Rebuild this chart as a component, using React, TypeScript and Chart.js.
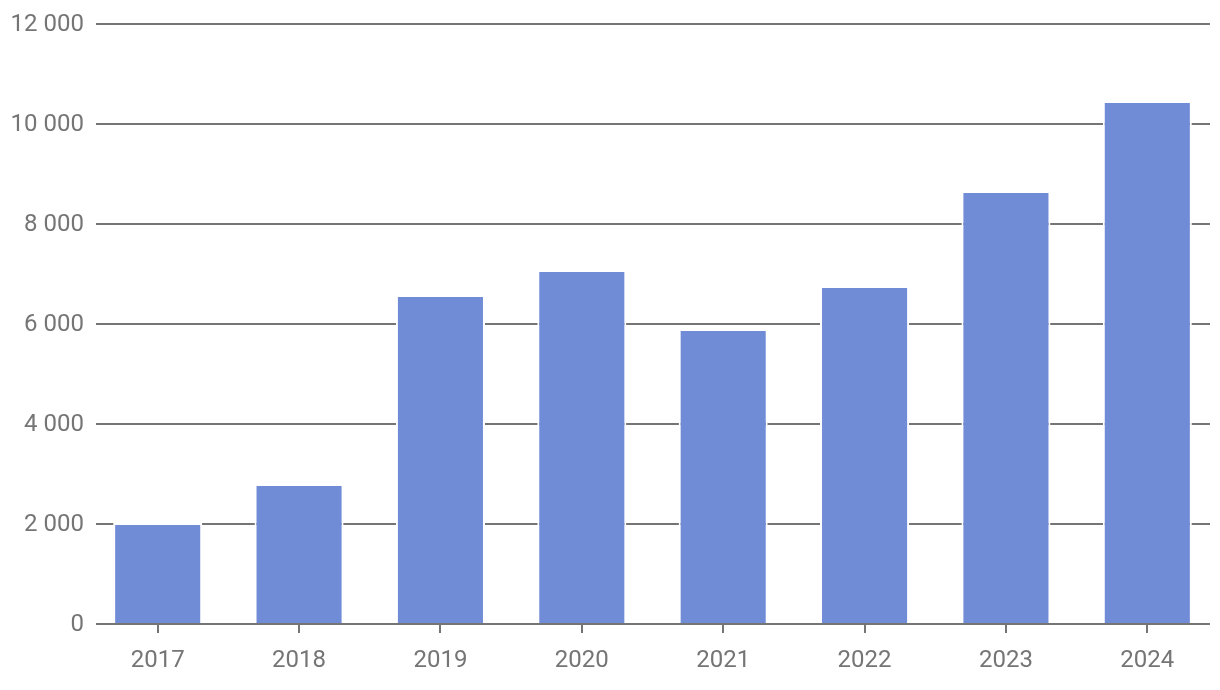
import React, { useEffect, useRef } from "react";
import { Chart, registerables } from "chart.js";

Chart.register(...registerables);

const categories = ["2017", "2018", "2019", "2020", "2021", "2022", "2023", "2024"];
const values = [2020, 2800, 6580, 7080, 5900, 6760, 8660, 10460];
const yTicks = [0, 2000, 4000, 6000, 8000, 10000, 12000];

const BAR_COLOR = "#718cd7";
const AXIS_COLOR = "#757575";
const FONT = "Roboto";

const fmt = (v: number) => String(v).replace(/\B(?=(\d{3})+(?!\d))/g, " ");

const gridPlugin = {
  id: "customGrid",
  beforeDatasetsDraw(chart: any) {
    const { ctx, chartArea, scales } = chart;
    const y = scales.y;
    ctx.save();
    ctx.strokeStyle = AXIS_COLOR;
    ctx.lineWidth = 2;
    yTicks.forEach((t) => {
      if (t === 0) return;
      const py = y.getPixelForValue(t);
      ctx.beginPath();
      ctx.moveTo(chartArea.left + 9, py);
      ctx.lineTo(chartArea.right - 8, py);
      ctx.stroke();
    });
    ctx.restore();
  },
  afterDatasetsDraw(chart: any) {
    const { ctx, chartArea, scales } = chart;
    const py = scales.y.getPixelForValue(0);
    ctx.save();
    ctx.strokeStyle = AXIS_COLOR;
    ctx.lineWidth = 2;
    ctx.beginPath();
    ctx.moveTo(chartArea.left + 9, py);
    ctx.lineTo(chartArea.right - 8, py);
    ctx.stroke();
    ctx.restore();
  },
};

export default function App() {
  const ref = useRef<HTMLCanvasElement>(null);
  useEffect(() => {
    if (!ref.current) return;
    const chart = new Chart(ref.current, {
      type: "bar",
      data: {
        labels: categories,
        datasets: [
          {
            data: values,
            backgroundColor: BAR_COLOR,
            borderColor: "#ffffff",
            borderWidth: 2,
            barPercentage: 0.63,
            categoryPercentage: 1,
          },
        ],
      },
      options: {
        responsive: false,
        animation: false,
        devicePixelRatio: 1,
        layout: { padding: { top: 24, right: 2, left: 0, bottom: 0 } },
        plugins: { legend: { display: false }, tooltip: { enabled: false } },
        scales: {
          x: {
            offset: true,
            border: { display: false },
            grid: {
              display: true,
              drawOnChartArea: false,
              drawTicks: true,
              tickLength: 9,
              color: AXIS_COLOR,
              lineWidth: 2,
              offset: false,
            },
            ticks: {
              color: AXIS_COLOR,
              font: { family: FONT, size: 24 },
              padding: 14,
              maxRotation: 0,
            },
            afterFit: (s: any) => {
              s.height = 66;
            },
          },
          y: {
            min: 0,
            max: 12000,
            border: { display: false },
            grid: { display: false, drawTicks: false },
            ticks: {
              stepSize: 2000,
              color: AXIS_COLOR,
              font: { family: FONT, size: 24 },
              padding: 3,
              labelOffset: 1,
              callback: (v: any) => fmt(Number(v)),
            },
            afterFit: (s: any) => {
              s.width = 87;
            },
          },
        },
      },
      plugins: [gridPlugin],
    });
    return () => chart.destroy();
  }, []);
  return (
    <div style={{ position: "absolute", left: 0, top: 0, width: 1220, height: 690, background: "#fff" }}>
      <canvas ref={ref} width={1220} height={690} style={{ display: "block" }} />
    </div>
  );
}
